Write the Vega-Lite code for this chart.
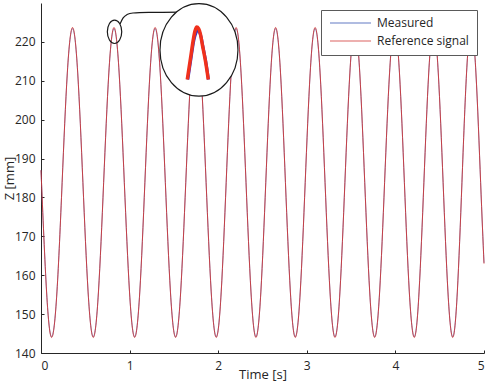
{
  "$schema": "https://vega.github.io/schema/vega-lite/v6.json",
  "autosize": {"type": "none"},
  "padding": {"left": 41, "top": 3, "right": 4, "bottom": 29},
  "width": 443,
  "height": 350,
  "background": "white",
  "config": {
    "view": {"stroke": null},
    "font": "Open Sans",
    "axis": {
      "grid": false,
      "domainColor": "#262626",
      "domainWidth": 1,
      "tickColor": "#262626",
      "tickSize": -3,
      "labelFont": "Open Sans",
      "labelFontSize": 12,
      "labelColor": "#262626",
      "titleFont": "Open Sans",
      "titleFontSize": 14,
      "titleFontWeight": "normal",
      "titleColor": "#262626"
    },
    "legend": {
      "title": null,
      "orient": "top-right",
      "offset": 7,
      "fillColor": "white",
      "strokeColor": "#5a5a5a",
      "padding": 8,
      "symbolType": "stroke",
      "symbolSize": 1681,
      "symbolStrokeWidth": 1.5,
      "symbolOpacity": 0.5,
      "labelFont": "Open Sans",
      "labelFontSize": 12,
      "labelColor": "#262626",
      "labelOffset": 5,
      "clipHeight": 10,
      "rowPadding": 6
    }
  },
  "datasets": {
    "signal": [
      {"t": 0.0, "ref": 187.0, "meas": 187.0},
      {"t": 0.063, "ref": 155.67, "meas": 155.8},
      {"t": 0.121, "ref": 144.0, "meas": 144.2},
      {"t": 0.18, "ref": 155.67, "meas": 155.8},
      {"t": 0.2385, "ref": 183.85, "meas": 183.8},
      {"t": 0.297, "ref": 212.03, "meas": 211.9},
      {"t": 0.356, "ref": 223.7, "meas": 223.4},
      {"t": 0.4145, "ref": 212.03, "meas": 211.9},
      {"t": 0.473, "ref": 183.85, "meas": 183.8},
      {"t": 0.5315, "ref": 155.67, "meas": 155.8},
      {"t": 0.59, "ref": 144.0, "meas": 144.2},
      {"t": 0.6485, "ref": 155.67, "meas": 155.8},
      {"t": 0.707, "ref": 183.85, "meas": 183.8},
      {"t": 0.7655, "ref": 212.03, "meas": 211.9},
      {"t": 0.824, "ref": 223.7, "meas": 223.4},
      {"t": 0.882, "ref": 212.03, "meas": 211.9},
      {"t": 0.9405, "ref": 183.85, "meas": 183.8},
      {"t": 0.999, "ref": 155.67, "meas": 155.8},
      {"t": 1.057, "ref": 144.0, "meas": 144.2},
      {"t": 1.115, "ref": 155.67, "meas": 155.8},
      {"t": 1.1725, "ref": 183.85, "meas": 183.8},
      {"t": 1.23, "ref": 212.03, "meas": 211.9},
      {"t": 1.288, "ref": 223.7, "meas": 223.4},
      {"t": 1.346, "ref": 212.03, "meas": 211.9},
      {"t": 1.4035, "ref": 183.85, "meas": 183.8},
      {"t": 1.461, "ref": 155.67, "meas": 155.8},
      {"t": 1.519, "ref": 144.0, "meas": 144.2},
      {"t": 1.5765, "ref": 155.67, "meas": 155.8},
      {"t": 1.634, "ref": 183.85, "meas": 183.8},
      {"t": 1.6915, "ref": 212.03, "meas": 211.9},
      {"t": 1.749, "ref": 223.7, "meas": 223.4},
      {"t": 1.806, "ref": 212.03, "meas": 211.9},
      {"t": 1.8635, "ref": 183.85, "meas": 183.8},
      {"t": 1.921, "ref": 155.67, "meas": 155.8},
      {"t": 1.978, "ref": 144.0, "meas": 144.2},
      {"t": 2.034, "ref": 155.67, "meas": 155.8},
      {"t": 2.09, "ref": 183.85, "meas": 183.8},
      {"t": 2.146, "ref": 212.03, "meas": 211.9},
      {"t": 2.202, "ref": 223.7, "meas": 223.4},
      {"t": 2.258, "ref": 212.03, "meas": 211.9},
      {"t": 2.314, "ref": 183.85, "meas": 183.8},
      {"t": 2.37, "ref": 155.67, "meas": 155.8},
      {"t": 2.426, "ref": 144.0, "meas": 144.2},
      {"t": 2.4815, "ref": 155.67, "meas": 155.8},
      {"t": 2.537, "ref": 183.85, "meas": 183.8},
      {"t": 2.5925, "ref": 212.03, "meas": 211.9},
      {"t": 2.648, "ref": 223.7, "meas": 223.4},
      {"t": 2.7035, "ref": 212.03, "meas": 211.9},
      {"t": 2.759, "ref": 183.85, "meas": 183.8},
      {"t": 2.8145, "ref": 155.67, "meas": 155.8},
      {"t": 2.87, "ref": 144.0, "meas": 144.2},
      {"t": 2.926, "ref": 155.67, "meas": 155.8},
      {"t": 2.982, "ref": 183.85, "meas": 183.8},
      {"t": 3.038, "ref": 212.03, "meas": 211.9},
      {"t": 3.094, "ref": 223.7, "meas": 223.4},
      {"t": 3.15, "ref": 212.03, "meas": 211.9},
      {"t": 3.206, "ref": 183.85, "meas": 183.8},
      {"t": 3.262, "ref": 155.67, "meas": 155.8},
      {"t": 3.318, "ref": 144.0, "meas": 144.2},
      {"t": 3.374, "ref": 155.67, "meas": 155.8},
      {"t": 3.43, "ref": 183.85, "meas": 183.8},
      {"t": 3.486, "ref": 212.03, "meas": 211.9},
      {"t": 3.542, "ref": 223.7, "meas": 223.4},
      {"t": 3.598, "ref": 212.03, "meas": 211.9},
      {"t": 3.654, "ref": 183.85, "meas": 183.8},
      {"t": 3.71, "ref": 155.67, "meas": 155.8},
      {"t": 3.766, "ref": 144.0, "meas": 144.2},
      {"t": 3.822, "ref": 155.67, "meas": 155.8},
      {"t": 3.878, "ref": 183.85, "meas": 183.8},
      {"t": 3.934, "ref": 212.03, "meas": 211.9},
      {"t": 3.99, "ref": 223.7, "meas": 223.4},
      {"t": 4.046, "ref": 212.03, "meas": 211.9},
      {"t": 4.1015, "ref": 183.85, "meas": 183.8},
      {"t": 4.157, "ref": 155.67, "meas": 155.8},
      {"t": 4.213, "ref": 144.0, "meas": 144.2},
      {"t": 4.267, "ref": 155.67, "meas": 155.8},
      {"t": 4.3215, "ref": 183.85, "meas": 183.8},
      {"t": 4.376, "ref": 212.03, "meas": 211.9},
      {"t": 4.43, "ref": 223.7, "meas": 223.4},
      {"t": 4.484, "ref": 212.03, "meas": 211.9},
      {"t": 4.5385, "ref": 183.85, "meas": 183.8},
      {"t": 4.593, "ref": 155.67, "meas": 155.8},
      {"t": 4.647, "ref": 144.0, "meas": 144.2},
      {"t": 4.699, "ref": 155.67, "meas": 155.8},
      {"t": 4.751, "ref": 183.85, "meas": 183.8},
      {"t": 4.803, "ref": 212.03, "meas": 211.9},
      {"t": 4.855, "ref": 223.7, "meas": 223.4},
      {"t": 4.909, "ref": 212.03, "meas": 211.9},
      {"t": 4.962, "ref": 183.85, "meas": 183.8},
      {"t": 5.0, "ref": 163.0, "meas": 163.2}
    ],
    "connector": [
      {"t": 0.892, "z": 224.58},
      {"t": 0.925, "z": 226.12},
      {"t": 0.971, "z": 227.02},
      {"t": 1.038, "z": 227.43},
      {"t": 1.23, "z": 227.59},
      {"t": 1.569, "z": 227.67}
    ],
    "smallRing": [{"t": 0.83, "z": 222.6}],
    "bigRing": [{"t": 1.783, "z": 217.94}],
    "zoomMeas": [
      {"t": 1.657, "z": 210.31},
      {"t": 1.693, "z": 215.7},
      {"t": 1.725, "z": 220.34},
      {"t": 1.745, "z": 222.01},
      {"t": 1.766, "z": 222.91},
      {"t": 1.787, "z": 222.52},
      {"t": 1.806, "z": 221.36},
      {"t": 1.828, "z": 218.79},
      {"t": 1.86, "z": 214.94},
      {"t": 1.89, "z": 210.31}
    ],
    "zoomRef": [
      {"t": 1.651, "z": 210.31},
      {"t": 1.687, "z": 215.7},
      {"t": 1.719, "z": 220.59},
      {"t": 1.738, "z": 222.78},
      {"t": 1.758, "z": 223.81},
      {"t": 1.779, "z": 223.42},
      {"t": 1.798, "z": 222.14},
      {"t": 1.823, "z": 219.05},
      {"t": 1.857, "z": 214.94},
      {"t": 1.888, "z": 210.31}
    ]
  },
  "layer": [
    {
      "data": {"name": "signal"},
      "mark": {"type": "line", "interpolate": "natural", "strokeWidth": 1, "strokeOpacity": 0.6},
      "encoding": {
        "x": {"field": "t", "type": "quantitative", "title": "Time [s]", "scale": {"domain": [0, 5], "nice": false, "zero": false},
              "axis": {"values": [0, 1, 2, 3, 4, 5], "format": "d", "labelPadding": 10, "titlePadding": -3, "titleFontSize": 13}},
        "y": {"field": "meas", "type": "quantitative", "title": "Z [mm]", "scale": {"domain": [140, 230], "nice": false, "zero": false},
              "axis": {"values": [140, 150, 160, 170, 180, 190, 200, 210, 220], "format": "d", "labelPadding": 9, "titlePadding": -2, "titleFontSize": 13}},
        "color": {"datum": "Measured", "type": "nominal",
                  "scale": {"domain": ["Measured", "Reference signal"], "range": ["#3050b0", "#d0302e"]}}
      }
    },
    {
      "data": {"name": "signal"},
      "mark": {"type": "line", "interpolate": "natural", "strokeWidth": 1, "strokeOpacity": 0.85},
      "encoding": {
        "x": {"field": "t", "type": "quantitative", "title": "Time [s]"},
        "y": {"field": "ref", "type": "quantitative", "title": "Z [mm]"},
        "color": {"datum": "Reference signal", "type": "nominal"}
      }
    },
    {
      "data": {"name": "connector"},
      "mark": {"type": "line", "interpolate": "monotone", "color": "#1a1a1a", "strokeWidth": 1.2},
      "encoding": {
        "x": {"field": "t", "type": "quantitative", "title": "Time [s]"},
        "y": {"field": "z", "type": "quantitative", "title": "Z [mm]"}
      }
    },
    {
      "data": {"name": "smallRing"},
      "mark": {"type": "point", "shape": "M0.615,0C0.615,0.552,0.34,1,0,1C-0.34,1,-0.615,0.552,-0.615,0C-0.615,-0.552,-0.34,-1,0,-1C0.34,-1,0.615,-0.552,0.615,0Z",
               "size": 548, "filled": false, "stroke": "#1a1a1a", "strokeWidth": 1.2, "opacity": 1},
      "encoding": {
        "x": {"field": "t", "type": "quantitative", "title": "Time [s]"},
        "y": {"field": "z", "type": "quantitative", "title": "Z [mm]"}
      }
    },
    {
      "data": {"name": "bigRing"},
      "mark": {"type": "point", "shape": "M0.842,0C0.842,0.552,0.465,1,0,1C-0.465,1,-0.842,0.552,-0.842,0C-0.842,-0.552,-0.465,-1,0,-1C0.465,-1,0.842,-0.552,0.842,0Z",
               "size": 8575, "filled": true, "fill": "white", "fillOpacity": 1, "stroke": "#1a1a1a", "strokeWidth": 1.2, "opacity": 1},
      "encoding": {
        "x": {"field": "t", "type": "quantitative", "title": "Time [s]"},
        "y": {"field": "z", "type": "quantitative", "title": "Z [mm]"}
      }
    },
    {
      "data": {"name": "zoomMeas"},
      "mark": {"type": "line", "interpolate": "monotone", "color": "#3535c8", "strokeWidth": 3},
      "encoding": {
        "x": {"field": "t", "type": "quantitative", "title": "Time [s]"},
        "y": {"field": "z", "type": "quantitative", "title": "Z [mm]"}
      }
    },
    {
      "data": {"name": "zoomRef"},
      "mark": {"type": "line", "interpolate": "monotone", "color": "#f0301c", "strokeWidth": 3.5},
      "encoding": {
        "x": {"field": "t", "type": "quantitative", "title": "Time [s]"},
        "y": {"field": "z", "type": "quantitative", "title": "Z [mm]"}
      }
    }
  ]
}
